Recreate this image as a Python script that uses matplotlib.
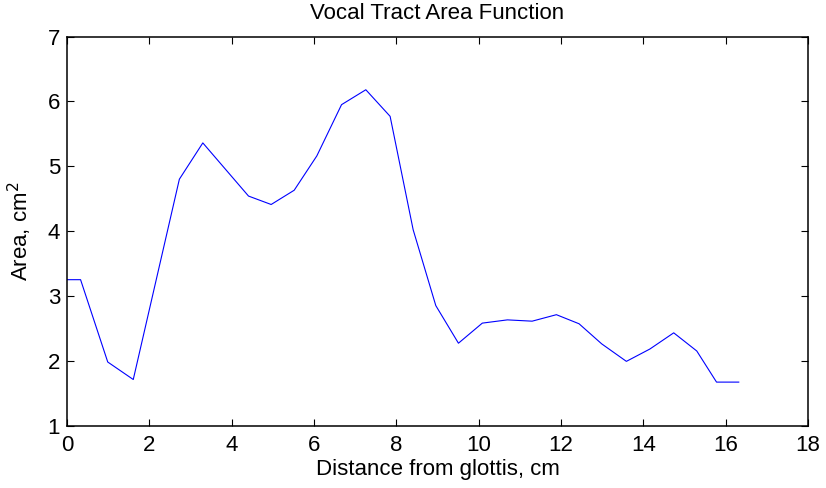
import matplotlib
matplotlib.use("Agg")
import matplotlib.pyplot as plt

# Area function samples
distance_cm = [0.0, 0.33, 0.99, 1.61, 2.73, 3.30, 4.41, 4.96, 5.52, 6.07,
               6.67, 7.26, 7.85, 8.41, 8.96, 9.51, 10.09, 10.70, 11.30, 11.89,
               12.44, 12.99, 13.59, 14.16, 14.74, 15.30, 15.78, 16.32]
area_cm2 = [3.25, 3.25, 1.98, 1.71, 4.80, 5.36, 4.54, 4.41, 4.63, 5.16,
            5.95, 6.18, 5.77, 4.02, 2.85, 2.27, 2.58, 2.63, 2.61, 2.71,
            2.57, 2.26, 1.99, 2.18, 2.43, 2.15, 1.67, 1.67]

xticks = [0, 2, 4, 6, 8, 10, 12, 14, 16, 18]
yticks = [1, 2, 3, 4, 5, 6, 7]

plt.rcParams['font.family'] = ['Liberation Sans', 'DejaVu Sans']
fs = 16

fig = plt.figure(figsize=(8.26, 4.88), dpi=100)
ax = fig.add_axes([0.0811, 0.128, 0.897, 0.797])

ax.plot(distance_cm, area_cm2, color=(0, 0, 1), linewidth=0.8)

ax.set_xlim(0, 18)
ax.set_ylim(1, 7)
ax.set_xticks(xticks)
ax.set_yticks(yticks)
ax.tick_params(direction='in', length=5, width=0.8, top=True, right=True,
               labelsize=fs)
ax.tick_params(axis='x', pad=7)
ax.tick_params(axis='y', pad=5)
for s in ax.spines.values():
    s.set_linewidth(1.1)

ax.set_title('Vocal Tract Area Function', fontsize=fs, pad=13)
ax.set_xlabel('Distance from glottis, cm', fontsize=fs, labelpad=2)
ax.set_ylabel('Area, cm$^2$', fontsize=fs, labelpad=10)

fig.savefig('out.png', dpi=100)
